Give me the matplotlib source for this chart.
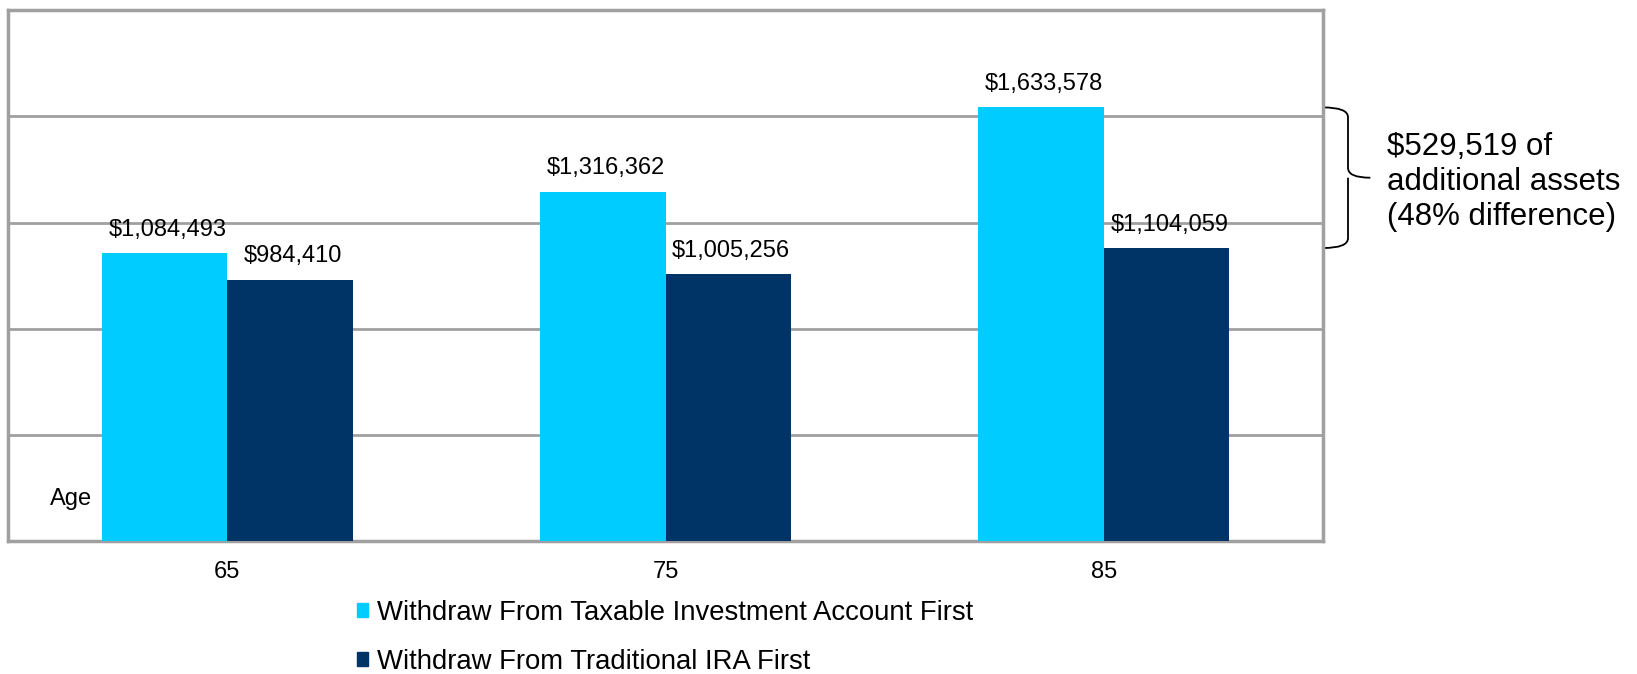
import matplotlib.pyplot as plt
import numpy as np
from matplotlib.path import Path
from matplotlib.patches import PathPatch, Patch
import matplotlib.transforms as mtransforms

plt.rcParams['font.family'] = ['Liberation Sans', 'DejaVu Sans']

ages = ["65", "75", "85"]
taxable_first = [1084493, 1316362, 1633578]
ira_first = [984410, 1005256, 1104059]
series_names = ["Withdraw From Taxable Investment Account First",
                "Withdraw From Traditional IRA First"]
note_text = "$529,519 of\nadditional assets\n(48% difference)"

cyan = "#00CCFF"
navy = "#003366"
grid_gray = "#A0A0A0"

fig = plt.figure(figsize=(16.37, 6.74), dpi=100)
ax = fig.add_axes([0.0049, 0.197, 0.8033, 0.788])

x = np.arange(len(ages))
w = 0.286
b1 = ax.bar(x - w / 2, taxable_first, w, color=cyan, zorder=3)
b2 = ax.bar(x + w / 2, ira_first, w, color=navy, zorder=3)

for bars, vals in ((b1, taxable_first), (b2, ira_first)):
    for rect, v in zip(bars, vals):
        ax.annotate(f"${v:,}", (rect.get_x() + rect.get_width() / 2, v),
                    xytext=(2, 9), textcoords="offset points",
                    ha="center", va="bottom", fontsize=17)

ax.set_xlim(-0.5, 2.5)
ax.set_ylim(0, 2000000)
ax.set_yticks(np.arange(0, 2000001, 400000))
ax.yaxis.grid(True, color=grid_gray, linewidth=2)
ax.set_axisbelow(True)
ax.tick_params(axis="y", left=False, labelleft=False)
ax.tick_params(axis="x", length=0, pad=14, labelsize=17)
ax.set_xticks(x)
ax.set_xticklabels(ages)
for s in ax.spines.values():
    s.set_color(grid_gray)
    s.set_linewidth(2.5)

ax.text(0.064, 0.079, "Age", transform=ax.transAxes, ha="right", va="center",
        fontsize=17)

# curly brace spanning the gap at age 85
trans = mtransforms.blended_transform_factory(ax.transAxes, ax.transData)
y0, y1 = ira_first[-1], taxable_first[-1]
ym = (y0 + y1) / 2
dx1, dx2 = 0.019, 0.036
r = (y1 - y0) * 0.07
verts = [(1.0, y1), (1.0 + dx1, y1), (1.0 + dx1, y1 - r),
         (1.0 + dx1, ym + r), (1.0 + dx1, ym), (1.0 + dx2, ym),
         (1.0 + dx1, ym), (1.0 + dx1, ym - r),
         (1.0 + dx1, y0 + r), (1.0 + dx1, y0), (1.0, y0)]
codes = [Path.MOVETO, Path.CURVE3, Path.CURVE3,
         Path.LINETO, Path.CURVE3, Path.CURVE3,
         Path.MOVETO, Path.CURVE3,
         Path.LINETO, Path.CURVE3, Path.CURVE3]
ax.add_patch(PathPatch(Path(verts, codes), transform=trans, fill=False,
                       edgecolor="black", linewidth=1.3, clip_on=False))

fig.text(0.847, 0.730, note_text, ha="left", va="center", fontsize=22.5,
         linespacing=1.2)

handles = [Patch(color=cyan), Patch(color=navy)]
fig.legend(handles, series_names, loc="center left", bbox_to_anchor=(0.218, 0.054),
           frameon=False, fontsize=19.8, handlelength=0.42, handleheight=0.42,
           handletextpad=0.3, labelspacing=0.83, borderpad=0, borderaxespad=0)

fig.savefig("out.png", dpi=100)
